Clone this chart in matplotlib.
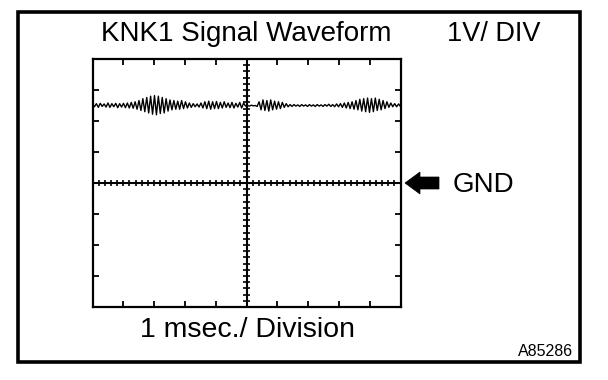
import numpy as np
import matplotlib
matplotlib.use("Agg")
import matplotlib.pyplot as plt
from matplotlib.patches import Rectangle, Polygon

plt.rcParams['font.family'] = ['Liberation Sans', 'DejaVu Sans']

# ---- data ----
title_text = "KNK1 Signal Waveform"
scale_text = "1V/ DIV"
time_text = "1 msec./ Division"
gnd_text = "GND"
code_text = "A85286"

n_xdiv = 10
n_ydiv = 8
minor_per_div = 5

# waveform extrema (volts above GND), evenly spaced over 10 divisions
signal_v = [
    2.55, 2.46, 2.56, 2.44, 2.57, 2.47, 2.55, 2.45, 2.58, 2.44, 2.56, 2.46, 2.57, 2.43, 2.56, 2.45,
    2.57, 2.43, 2.58, 2.42, 2.60, 2.41, 2.62, 2.38, 2.66, 2.34, 2.72, 2.30, 2.76, 2.26, 2.80, 2.22,
    2.82, 2.20, 2.80, 2.24, 2.76, 2.26, 2.72, 2.32, 2.68, 2.36, 2.66, 2.38, 2.64, 2.38, 2.66, 2.40,
    2.62, 2.42, 2.58, 2.44, 2.56, 2.46, 2.55, 2.45, 2.58, 2.42, 2.62, 2.40, 2.64, 2.38, 2.62, 2.40,
    2.63, 2.40, 2.60, 2.42, 2.62, 2.44, 2.58, 2.43, 2.60, 2.42, 2.57, 2.45, 2.60, 2.42, 2.58, 2.48,
    2.50, 2.48, 2.51, 2.49, 2.50, 2.47, 2.62, 2.36, 2.68, 2.34, 2.66, 2.32, 2.68, 2.36, 2.64, 2.38,
    2.62, 2.40, 2.60, 2.44, 2.56, 2.46, 2.53, 2.47, 2.53, 2.48, 2.52, 2.47, 2.53, 2.48, 2.52, 2.47,
    2.53, 2.48, 2.52, 2.47, 2.53, 2.48, 2.52, 2.47, 2.53, 2.48, 2.54, 2.47, 2.53, 2.46, 2.55, 2.46,
    2.56, 2.44, 2.58, 2.42, 2.60, 2.40, 2.62, 2.38, 2.66, 2.36, 2.70, 2.32, 2.72, 2.30, 2.74, 2.28,
    2.72, 2.30, 2.74, 2.34, 2.70, 2.36, 2.66, 2.40, 2.62, 2.44, 2.58, 2.46, 2.56, 2.46, 2.55, 2.47,
]

W, H = 608, 380
fig = plt.figure(figsize=(W / 100, H / 100), dpi=100)
fig.patch.set_facecolor('white')

# outer box (pixel coordinates)
px = fig.add_axes([0, 0, 1, 1])
px.set_xlim(0, W)
px.set_ylim(H, 0)
px.axis('off')
px.add_patch(Rectangle((17.5, 12), 562, 350, fill=False, lw=2.6, ec='black'))

# oscilloscope screen
L, R, T, B = 92.5, 400.5, 59, 307
ax = fig.add_axes([L / W, (H - B) / H, (R - L) / W, (B - T) / H])
ax.set_xlim(0, n_xdiv)
ax.set_ylim(-n_ydiv / 2, n_ydiv / 2)
for s in ax.spines.values():
    s.set_linewidth(1.6)
ax.set_xticks(np.arange(1, n_xdiv))
ax.set_yticks(np.arange(-n_ydiv / 2 + 1, n_ydiv / 2))
ax.tick_params(direction='in', length=4, width=1.3, top=True, right=True,
               labelbottom=False, labelleft=False)

# center cross with graduations
cx = n_xdiv / 2
ax.axhline(0, color='black', lw=1.5)
ax.axvline(cx, color='black', lw=1.5)
xs_minor = np.arange(0, n_xdiv + 1e-9, 1 / minor_per_div)
ys_minor = np.arange(-n_ydiv / 2, n_ydiv / 2 + 1e-9, 1 / minor_per_div)
tx = 0.11
ty = 0.11
ax.vlines(xs_minor, -ty, ty, color='black', lw=1.2)
ax.hlines(ys_minor, cx - tx * n_xdiv / n_ydiv * 0.8, cx + tx * n_xdiv / n_ydiv * 0.8,
          color='black', lw=1.2)

# waveform
t = np.linspace(0, n_xdiv, len(signal_v))
ax.plot(t, signal_v, color='black', lw=1.0)

# texts
fig.text(246 / W, 1 - 34 / H, title_text, ha='center', va='center', fontsize=20)
fig.text(494 / W, 1 - 34 / H, scale_text, ha='center', va='center', fontsize=19.5)
fig.text(248 / W, 1 - 330 / H, time_text, ha='center', va='center', fontsize=20.5)
fig.text(453 / W, 1 - 185 / H, gnd_text, ha='left', va='center', fontsize=20)
fig.text(573 / W, 1 - 352 / H, code_text, ha='right', va='center', fontsize=11.5)

# GND arrow
px.add_patch(Polygon([(405, 183), (420, 172), (420, 177), (439, 177), (439, 189),
                      (420, 189), (420, 194)], closed=True, fc='black', ec='black', lw=0.5))

fig.savefig('out.png', dpi=100, facecolor='white')
